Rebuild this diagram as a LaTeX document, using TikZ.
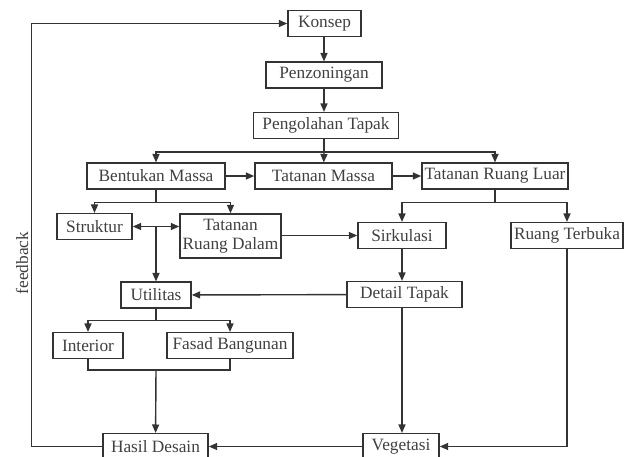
\documentclass[tikz,border=0pt]{standalone}
\usepackage{fontspec}
\setmainfont{Liberation Serif}
\usetikzlibrary{arrows.meta}
\begin{document}
\begin{tikzpicture}[x=0.025cm, y=-0.025cm,
            every node/.style={font=\fontsize{12.3}{13.5}\selectfont, text=black!75},
            blok/.style={draw=black!80, line width=1.1pt, inner sep=0pt, 
            minimum height=0.64cm, align=center},
            panah/.style={draw=black!80, line width=1pt, 
            -{Triangle[length=6pt,width=5pt]}},
            panahdua/.style={draw=black!80, line width=1pt, 
            {Triangle[length=6pt,width=5pt]}-{Triangle[length=6pt,width=5pt]}},
            garis/.style={draw=black!80, line width=1pt}]
            \useasboundingbox (0,0) rectangle (633,456);%
            % kolom tengah
            \node[blok, minimum width=1.825cm] (konsep) at (324.5,23.5) {Konsep};%
            \node[blok, minimum width=2.9cm] (penzoning) at (324,75) {Penzoningan};%
            \node[blok, minimum width=3.625cm] (tapak) at (326,125.5) 
            {Pengolahan Tapak};%
            \node[blok, minimum width=3.45cm] (bentukan) at (156,176) 
            {Bentukan Massa};%
            \node[blok, minimum width=3.425cm] (tmassa) at (323.5,176) 
            {Tatanan Massa};%
            \node[blok, minimum width=3.65cm] (tluar) at (495,176) 
            {Tatanan Ruang Luar};%
            % kiri
            \node[blok, minimum width=1.875cm] (struktur) at (94.5,226.5) 
            {Struktur};%
            \node[blok, minimum width=2.525cm, minimum height=1.1cm] (tdalam) 
            at (230.5,236) {Tatanan\\Ruang Dalam};%
            \node[blok, minimum width=1.75cm] (utilitas) at (156,295) {Utilitas};%
            \node[blok, minimum width=1.75cm] (interior) at (88,345.5) {Interior};%
            \node[blok, minimum width=3.15cm] (fasad) at (230,345.5) 
            {Fasad Bangunan};%
            \node[blok, minimum width=2.625cm] (hasil) at (155.5,446.5) 
            {Hasil Desain};%
            % kanan
            \node[blok, minimum width=2.2cm] (sirkulasi) at (402,235.5) {Sirkulasi};%
            \node[blok, minimum width=2.8cm] (rterbuka) at (567,235.5) 
            {Ruang Terbuka};%
            \node[blok, minimum width=2.875cm] (dtapak) at (404.5,294.5) 
            {Detail Tapak};%
            \node[blok, minimum width=1.9cm] (vegetasi) at (401,446.5) {Vegetasi};%
            \node[rotate=90] (feedback) at (22,263) {feedback};%
            % titik cabang
            \coordinate (cabang1) at (324,152);%
            \coordinate (cabang2) at (156,370);%
            % panah
            \draw[panah] (konsep.south -| penzoning) -- (penzoning);%
            \draw[panah] (penzoning.south) -- (penzoning.south |- tapak.north);%
            \draw[garis] (tapak.south -| cabang1) -- (cabang1);%
            \draw[panah] (cabang1) -- (tmassa);%
            \draw[panah] (cabang1) -| (bentukan.north);%
            \draw[panah] (cabang1) -| (tluar.north);%
            \draw[panah] (bentukan) -- (tmassa);%
            \draw[panah] (tmassa) -- (tluar);%
            \draw[panah] (bentukan.south) -- ++(0,13) -| (struktur.north);%
            \draw[panah] (bentukan.south) ++(0,13) -| (tdalam.north);%
            \draw[panahdua] (struktur.east) -- (struktur.east -| tdalam.west);%
            \draw[panah] (struktur.east -| utilitas) -- (utilitas);%
            \draw[panah] (tdalam.east |- sirkulasi) -- (sirkulasi);%
            \draw[panah] (tluar.south) -- ++(0,13) -| (sirkulasi.north);%
            \draw[panah] (tluar.south) ++(0,13) -| (rterbuka.north);%
            \draw[panah] (sirkulasi) -- (sirkulasi |- dtapak.north);%
            \draw[panah] (dtapak) -- (utilitas);%
            \draw[panah] (utilitas.south) -- ++(0,12) -| (interior.north);%
            \draw[panah] (utilitas.south) ++(0,12) -| (fasad.north);%
            \draw[garis] (interior.south) |- (cabang2) -| (fasad.south);%
            \draw[panah] (cabang2) -- (hasil);%
            \draw[panah] (dtapak.south -| sirkulasi) -- (sirkulasi |- vegetasi.north);%
            \draw[panah] (rterbuka.south) |- (vegetasi.east);%
            \draw[panah] (vegetasi) -- (hasil);%
            \draw[panah] (hasil.west) -- ++(-71,0) |- (konsep.west);%
        \end{tikzpicture}
\end{document}
